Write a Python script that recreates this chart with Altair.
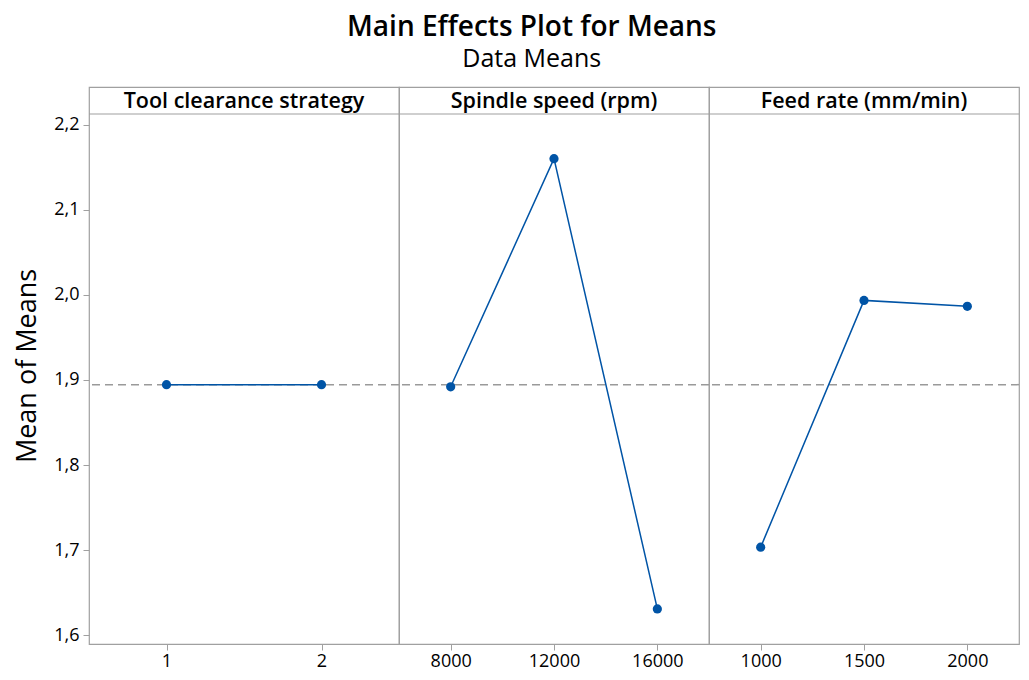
import altair as alt
import pandas as pd

factor_names = ["Tool clearance strategy", "Spindle speed (rpm)", "Feed rate (mm/min)"]
tool_levels = ["1", "2"]
tool_means = [1.8945, 1.8945]
spindle_levels = ["8000", "12000", "16000"]
spindle_means = [1.892, 2.160, 1.631]
feed_levels = ["1000", "1500", "2000"]
feed_means = [1.7035, 1.9935, 1.9866]
grand_mean = 1.8945
y_ticks = [1.6, 1.7, 1.8, 1.9, 2.0, 2.1, 2.2]

FONT = "Open Sans"
BLUE = "#0054A6"
GRAY = "#A0A0A0"
W = 310
HH = 27
PLOT_H = 530
PX_PER_UNIT = PLOT_H / (2.2125 - 1.5898)
Y_MIN = 1.5898
Y_MAX = 2.2125 + HH / PX_PER_UNIT
H = PLOT_H + HH


def panel(name, levels, means, first):
    df = pd.DataFrame({"level": levels, "mean": means})
    x = alt.X(
        "level:O",
        sort=levels,
        scale=alt.Scale(type="point", domain=levels, padding=0.5),
        axis=alt.Axis(title=None, labelAngle=0, ticks=True, tickSize=6,
                      tickColor=GRAY, domain=False, labelFontSize=18,
                      labelPadding=2, labelColor="black", labelFont=FONT),
    )
    if first:
        yaxis = alt.Axis(
            title="Mean of Means", values=y_ticks,
            labelExpr="replace(format(datum.value, '.1f'), '.', ',')",
            grid=False, domain=False, tickSize=6, tickColor=GRAY,
            labelFontSize=18, labelFont=FONT, labelColor="black",
            titleFontSize=27, titleFont=FONT, titleFontWeight="normal",
            titleColor="black", titlePadding=12, labelPadding=4,
        )
    else:
        yaxis = None
    yscale = alt.Scale(domain=[Y_MIN, Y_MAX], nice=False, zero=False)

    ref_df = pd.DataFrame({"g": [grand_mean]})
    rule = alt.Chart(ref_df).mark_rule(
        color="#9a9a9a", strokeDash=[8, 5], strokeWidth=1.5
    ).encode(y=alt.Y("g:Q", scale=yscale, axis=yaxis))

    base = alt.Chart(df)
    y = alt.Y("mean:Q", scale=yscale, axis=yaxis)
    line = base.mark_line(color=BLUE, strokeWidth=1.5).encode(x=x, y=y)
    pts = base.mark_circle(color=BLUE, size=85, opacity=1).encode(x=x, y=y)

    hdr_df = pd.DataFrame({"t": [name]})
    sep = alt.Chart(hdr_df).mark_rule(color=GRAY, strokeWidth=1.2).encode(
        x=alt.value(0), x2=alt.value(W), y=alt.value(HH)
    )
    txt = alt.Chart(hdr_df).mark_text(
        font=FONT, fontSize=21.5, fontWeight=600, color="black", baseline="middle"
    ).encode(text="t:N", x=alt.value(W / 2), y=alt.value(HH / 2 + 1))

    return alt.layer(rule, line, pts, sep, txt).properties(width=W, height=H)


chart = alt.hconcat(
    panel(factor_names[0], tool_levels, tool_means, True),
    panel(factor_names[1], spindle_levels, spindle_means, False),
    panel(factor_names[2], feed_levels, feed_means, False),
    spacing=0,
    bounds="flush",
).properties(
    title=alt.TitleParams(
        "Main Effects Plot for Means",
        subtitle="Data Means",
        anchor="middle",
        dx=15,
        font=FONT,
        fontSize=28,
        fontWeight=600,
        color="black",
        subtitleFont=FONT,
        subtitleFontSize=25,
        subtitleColor="black",
        subtitlePadding=5,
        offset=14,
    ),
    padding={"left": 5, "top": 6, "right": 0, "bottom": 0},
).configure_view(
    stroke=GRAY, strokeWidth=1.2
)

chart.save("out.html", embed_options={"renderer": "svg", "actions": False})
